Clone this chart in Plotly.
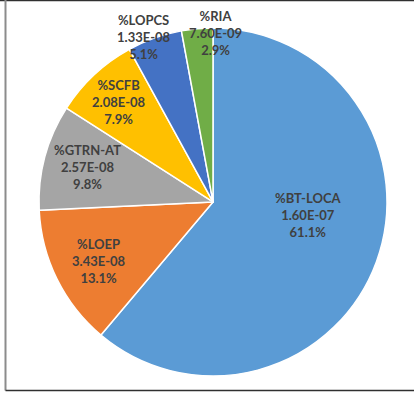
import math
import plotly.graph_objects as go

# Contribution of each initiating-event group
labels = ["%BT-LOCA", "%LOEP", "%GTRN-AT", "%SCFB", "%LOPCS", "%RIA"]
values = [1.60e-07, 3.43e-08, 2.57e-08, 2.08e-08, 1.33e-08, 7.60e-09]
colors = ["#5B9BD5", "#ED7D31", "#A5A5A5", "#FFC000", "#4472C4", "#70AD47"]

# Label placement: radial fraction of the radius and angular nudge (deg)
label_radius = [0.55, 0.74, 0.75, 0.79, 1.03, 0.97]
label_nudge = [-12, -1, 0.5, 0, -3, 6]

W, H = 414, 393
dom_x = [0.0942, 0.9348]
dom_y = [0.0433, 0.9288]

total = sum(values)
fig = go.Figure(go.Pie(
    labels=labels,
    values=values,
    sort=False,
    direction="clockwise",
    rotation=0,
    marker=dict(colors=colors, line=dict(color="white", width=1.5)),
    textinfo="none",
    hoverinfo="label+value+percent",
    domain=dict(x=dom_x, y=dom_y),
    showlegend=False,
))

# Pie geometry in pixels
cx = (dom_x[0] + dom_x[1]) / 2 * W
cy = (1 - (dom_y[0] + dom_y[1]) / 2) * H
r = min((dom_x[1] - dom_x[0]) * W, (dom_y[1] - dom_y[0]) * H) / 2

annotations = []
cum = 0.0
for lab, v, f, nudge in zip(labels, values, label_radius, label_nudge):
    frac = v / total
    mid = (cum + frac / 2) * 360 + nudge
    cum += frac
    px = cx + f * r * math.sin(math.radians(mid))
    py = cy - f * r * math.cos(math.radians(mid))
    text = f"{lab}<br>{v:.2E}<br>{frac * 100:.1f}%"
    annotations.append(dict(
        x=px / W, y=1 - py / H, xref="paper", yref="paper",
        text=text, showarrow=False, xanchor="center", yanchor="middle",
        font=dict(family="Lato", size=13, color="#404040", weight="bold"),
    ))

# Chart-area frame
shapes = [
    dict(type="line", xref="paper", yref="paper", x0=0.0, x1=1, y0=1 - 0.5 / H, y1=1 - 0.5 / H,
         line=dict(color="#303030", width=1.5)),
    dict(type="line", xref="paper", yref="paper", x0=5.5 / W, x1=5.5 / W, y0=1 - 390.5 / H, y1=1,
         line=dict(color="#8C8C8C", width=2)),
    dict(type="line", xref="paper", yref="paper", x0=5.5 / W, x1=1, y0=1 - 390.5 / H, y1=1 - 390.5 / H,
         line=dict(color="#303030", width=1.5)),
]

fig.update_layout(
    width=W, height=H,
    margin=dict(l=0, r=0, t=0, b=0),
    paper_bgcolor="white",
    plot_bgcolor="white",
    annotations=annotations,
    shapes=shapes,
)

fig.write_html("out.html")
